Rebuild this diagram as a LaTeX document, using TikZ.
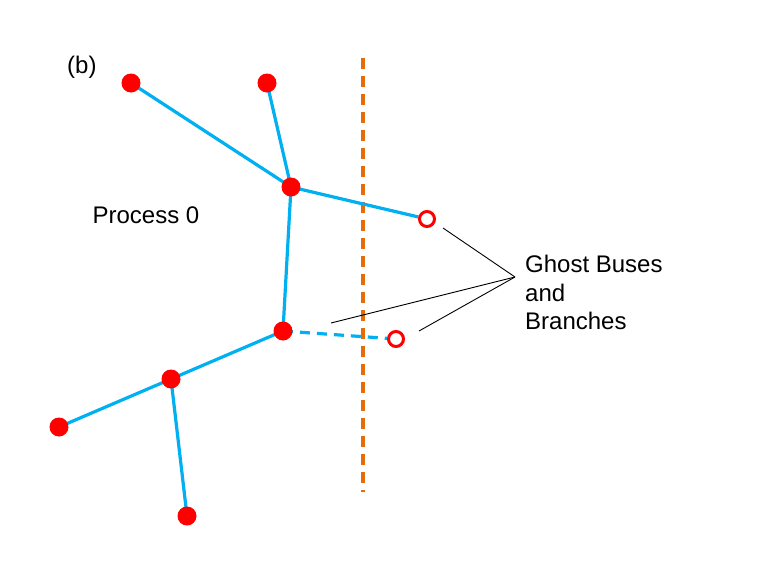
\documentclass[tikz,border=0pt]{standalone}
\usepackage{fontspec}
\setmainfont{Liberation Sans}
\usetikzlibrary{backgrounds}
\definecolor{busblue}{RGB}{0,176,240}
\definecolor{cutorange}{RGB}{228,108,10}
\definecolor{busred}{RGB}{255,0,0}
\tikzset{
  bus/.style={circle,fill=busred,inner sep=0pt,minimum size=19pt},
  ghost/.style={circle,draw=busred,fill=white,line width=3pt,inner sep=0pt,minimum size=15pt},
  branch/.style={busblue,line width=3.2pt},
  ghostbranch/.style={branch,dash pattern=on 10pt off 7pt},
  cut/.style={cutorange,line width=3.2pt,dash pattern=on 11pt off 7pt},
  pointer/.style={black,line width=0.9pt},
  lbl/.style={font=\fontsize{24}{28.5}\selectfont,inner sep=0pt}
}
\begin{document}
\begin{tikzpicture}[x=1pt,y=-1pt]
\useasboundingbox (0,0) rectangle (758,574);
\node[bus] (A) at (131,83) {};
\node[bus] (B) at (267,83) {};
\node[bus] (C) at (291,187) {};
\node[ghost] (D) at (427,219) {};
\node[bus] (E) at (283,331) {};
\node[ghost] (F) at (396,339) {};
\node[bus] (G) at (171,379) {};
\node[bus] (H) at (59,427) {};
\node[bus] (I) at (187,516) {};
\begin{pgfonlayer}{background}
\coordinate (cuttop) at (363,58);
\coordinate (cutbot) at (363,492);
\draw[cut] (cuttop) -- (cutbot);
\draw[branch] (A.center) -- (C.center);
\draw[branch] (B.center) -- (C.center);
\draw[branch] (C.center) -- (D);
\draw[branch] (C.center) -- (E.center);
\draw[ghostbranch] (E.center) -- (F);
\draw[branch] (E.center) -- (G.center);
\draw[branch] (G.center) -- (H.center);
\draw[branch] (G.center) -- (I.center);
\end{pgfonlayer}
\node[lbl,anchor=base west] (blabel) at (67,73) {(b)};
\node[lbl,anchor=base] (proc) at (146,223) {Process 0};
\node[lbl,anchor=north west,align=left] (ghostlbl) at (525,255) {Ghost Buses\\and\\Branches};
\coordinate (conv) at (515,277);
\coordinate (p1) at (443,228);
\coordinate (p2) at (331,323);
\coordinate (p3) at (419,331);
\draw[pointer] (conv) -- (p1);
\draw[pointer] (conv) -- (p2);
\draw[pointer] (conv) -- (p3);
\end{tikzpicture}
\end{document}
